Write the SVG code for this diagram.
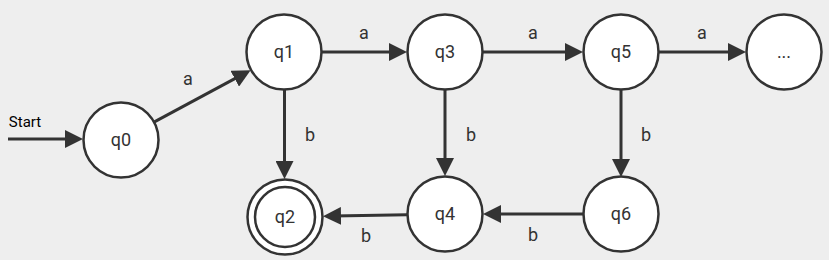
<svg xmlns="http://www.w3.org/2000/svg" width="829" height="260" viewBox="0 0 829 260">
<style>
.node circle{fill:#fff;stroke:#333;stroke-width:2.5}
.node text{font-family:Roboto,"Liberation Sans",sans-serif;font-size:18px;fill:#333;text-anchor:middle}
.edges line{stroke:#333;stroke-width:3;marker-end:url(#arr)}
.lbl{font-family:Roboto,"Liberation Sans",sans-serif;font-size:18px;fill:#333;text-anchor:middle}
</style>
<defs>
<marker id="arr" markerUnits="userSpaceOnUse" markerWidth="18" markerHeight="18" refX="8" refY="9" orient="auto">
<path d="M0,0 L18,9 L0,18 Z" fill="#333"/>
</marker>
</defs>
<rect width="829" height="260" fill="#eeeeee"/>
<g id="edges" class="edges">
<line x1="8" y1="139" x2="73" y2="139"/>
<line x1="154.4" y1="121.9" x2="241.8" y2="74.9"/>
<line x1="322" y1="52" x2="397" y2="52"/>
<line x1="483" y1="52" x2="573" y2="52"/>
<line x1="659" y1="52" x2="736" y2="52"/>
<line x1="284.5" y1="90" x2="284.5" y2="169"/>
<line x1="445" y1="90" x2="445" y2="166"/>
<line x1="621" y1="90" x2="621" y2="167"/>
<line x1="583" y1="214" x2="493" y2="214"/>
<line x1="407" y1="214.7" x2="333" y2="216.1"/>
</g>
<g id="labels">
<text x="25" y="127" font-family="Roboto,'Liberation Sans',sans-serif" font-size="15" fill="#000" text-anchor="middle">Start</text>
<text class="lbl" x="188" y="85">a</text>
<text class="lbl" x="364" y="39">a</text>
<text class="lbl" x="533" y="39">a</text>
<text class="lbl" x="702" y="39">a</text>
<text class="lbl" x="310" y="141">b</text>
<text class="lbl" x="471" y="141">b</text>
<text class="lbl" x="646" y="141">b</text>
<text class="lbl" x="533" y="241">b</text>
<text class="lbl" x="366" y="242">b</text>
</g>
<g id="q0" class="node"><circle cx="121" cy="140" r="37.5"/><text x="121" y="146">q0</text></g>
<g id="q1" class="node"><circle cx="284" cy="52" r="37.5"/><text x="284" y="58">q1</text></g>
<g id="q3" class="node"><circle cx="445" cy="52" r="37.5"/><text x="445" y="58">q3</text></g>
<g id="q5" class="node"><circle cx="621" cy="52" r="37.5"/><text x="621" y="58">q5</text></g>
<g id="qdots" class="node"><circle cx="784" cy="52" r="37.5"/><text x="784" y="58">...</text></g>
<g id="q2" class="node"><circle cx="285" cy="217" r="37.5"/><circle cx="285" cy="217" r="30"/><text x="285" y="223">q2</text></g>
<g id="q4" class="node"><circle cx="445" cy="214" r="37.5"/><text x="445" y="220">q4</text></g>
<g id="q6" class="node"><circle cx="621" cy="214" r="37.5"/><text x="621" y="220">q6</text></g>
</svg>
